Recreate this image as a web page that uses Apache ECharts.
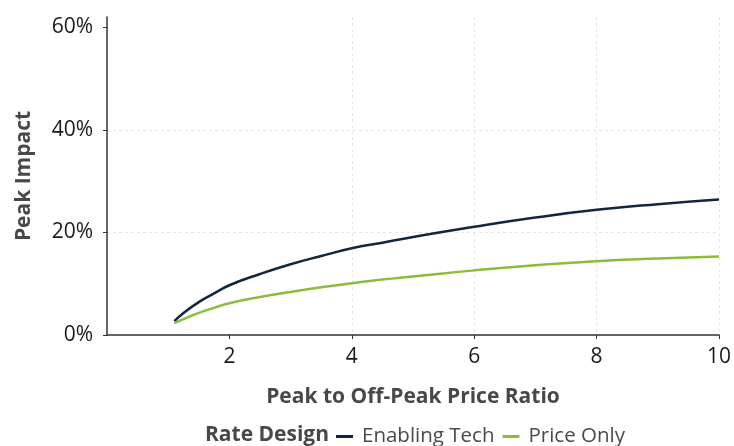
<!DOCTYPE html>
<html>
<head>
<meta charset="utf-8">
<script src="https://cdn.jsdelivr.net/npm/echarts@6/dist/echarts.min.js"></script>
<style>
  html, body { margin: 0; padding: 0; background: #fff; }
  #chart { width: 734px; height: 446px; }
</style>
</head>
<body>
<div id="chart"></div>
<script>
// Peak impact (%) by peak to off-peak price ratio
const ratioEnabling = [1.1, 1.25, 1.5, 1.75, 2, 2.5, 3, 3.5, 4, 4.5, 5, 6, 7, 8, 9, 10];
const impactEnabling = [2.7, 4.3, 6.4, 8.1, 9.7, 11.9, 13.8, 15.4, 16.9, 18.0, 19.1, 21.1, 22.9, 24.4, 25.5, 26.4];
const ratioPrice = [1.1, 1.25, 1.5, 1.75, 2, 2.5, 3, 3.5, 4, 4.5, 5, 6, 7, 8, 9, 10];
const impactPrice = [2.3, 3.1, 4.3, 5.3, 6.2, 7.4, 8.4, 9.3, 10.1, 10.8, 11.4, 12.6, 13.6, 14.4, 14.9, 15.3];
const xTickValues = [2, 4, 6, 8, 10];
const yTickValues = [0, 0.2, 0.4, 0.6];
const seriesNames = ['Enabling Tech', 'Price Only'];

const pairs = (xs, ys) => xs.map((x, i) => [x, ys[i] / 100]);

const font = '"Open Sans", "Noto Sans", sans-serif';
const gridLine = { show: true, lineStyle: { color: '#e6e6e6', width: 1, type: [3, 3] } };

const chart = echarts.init(document.getElementById('chart'), null, { renderer: 'canvas' });
chart.setOption({
  animation: false,
  backgroundColor: '#ffffff',
  textStyle: { fontFamily: font },
  title: {
    text: 'Rate Design',
    left: 200,
    top: 420,
    textStyle: { fontFamily: font, fontSize: 21, fontWeight: 'bold', color: '#484848' }
  },
  legend: {
    left: 331,
    top: 421,
    data: seriesNames,
    icon: 'rect',
    itemWidth: 17,
    itemHeight: 3,
    itemGap: 8,
    textStyle: { fontFamily: font, fontSize: 20.5, color: '#4a4a4a', padding: [0, 0, 0, 4] }
  },
  grid: { left: 107, right: 14, top: 17, bottom: 111, containLabel: false },
  xAxis: {
    type: 'value',
    min: 0,
    max: 10,
    interval: 1,
    name: 'Peak to Off-Peak Price Ratio',
    nameLocation: 'middle',
    nameGap: 52,
    nameTextStyle: { fontFamily: font, fontSize: 21, fontWeight: 'bold', color: '#484848' },
    axisLine: { show: true, onZero: false, lineStyle: { color: '#333333', width: 1.5 } },
    axisTick: { show: true, customValues: xTickValues, length: 4, lineStyle: { color: '#333333' } },
    axisLabel: { customValues: xTickValues, fontFamily: font, fontSize: 21, color: '#1a1a1a', margin: 12 },
    splitLine: Object.assign({ showMinLine: false }, gridLine)
  },
  yAxis: {
    type: 'value',
    min: 0,
    max: 0.62,
    interval: 0.1,
    name: 'Peak Impact',
    nameLocation: 'middle',
    nameGap: 72,
    nameTextStyle: { fontFamily: font, fontSize: 21, fontWeight: 'bold', color: '#484848' },
    axisLine: { show: true, lineStyle: { color: '#333333', width: 1.5 } },
    axisTick: { show: true, customValues: yTickValues, length: 4, lineStyle: { color: '#333333' } },
    axisLabel: {
      customValues: yTickValues,
      fontFamily: font, fontSize: 21, color: '#1a1a1a', margin: 14,
      formatter: v => Math.round(v * 100) + '%'
    },
    splitLine: Object.assign({ showMaxLine: false }, gridLine)
  },
  series: [
    {
      name: seriesNames[0],
      type: 'line',
      data: pairs(ratioEnabling, impactEnabling),
      smooth: 0.5,
      showSymbol: false,
      color: '#13263f',
      lineStyle: { color: '#13263f', width: 2.5 }
    },
    {
      name: seriesNames[1],
      type: 'line',
      data: pairs(ratioPrice, impactPrice),
      smooth: 0.5,
      showSymbol: false,
      color: '#8bbd3c',
      lineStyle: { color: '#8bbd3c', width: 2.5 }
    }
  ]
});
</script>
</body>
</html>
